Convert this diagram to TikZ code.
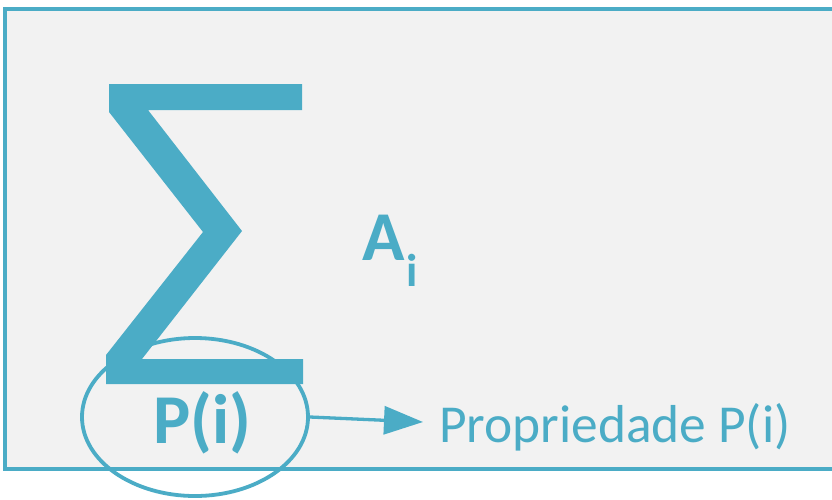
\documentclass[tikz,border=0pt]{standalone}
\usepackage{fontspec}
\setmainfont{Carlito}
\usetikzlibrary{shapes.geometric,arrows.meta}
\definecolor{teal}{HTML}{4BACC6}
\definecolor{bgray}{HTML}{F2F2F2}
\tikzset{
  lbl/.style={inner sep=0pt, outer sep=0pt, text=teal, anchor=base west},
  big/.style={lbl, font=\fontsize{70}{84}\selectfont\bfseries},
  sub/.style={lbl, font=\fontsize{46}{55}\selectfont\bfseries},
  prop/.style={lbl, font=\fontsize{53.4}{64}\selectfont},
  ring/.style={draw=teal, line width=3.8pt, ellipse, inner sep=0pt, minimum width=226pt, minimum height=158pt},
  conn/.style={draw=teal, line width=3.3pt, -{Triangle[length=39pt,width=28pt]}}
}
\begin{document}
\begin{tikzpicture}[x=1pt,y=-1pt]
\useasboundingbox (0,0) rectangle (832,499);
\clip (0,0) rectangle (832,499);
\fill[white] (0,0) rectangle (832,499);
\draw[fill=bgray, draw=teal, line width=4pt] (5,9) rectangle (845,469);
% Sigma
\fill[teal] (109,84) -- (302,84) -- (302,110) -- (148,110) -- (242,231) -- (142,359)
  -- (303,359) -- (303,384) -- (106,384) -- (106,355) -- (203,232) -- (109,112) -- cycle;
\node[big] (A) at (362,260) {A};
\node[sub] (isub) at (406,286) {i};
\node[big] (Pi) at (153,443) {P(i)};
\node[ring] (ell) at (195,417) {};
\coordinate (tip) at (423,422);
\draw[conn] (ell.east) -- (tip);
\node[prop] (prop) at (439,442) {Propriedade P(i)};
\end{tikzpicture}
\end{document}
